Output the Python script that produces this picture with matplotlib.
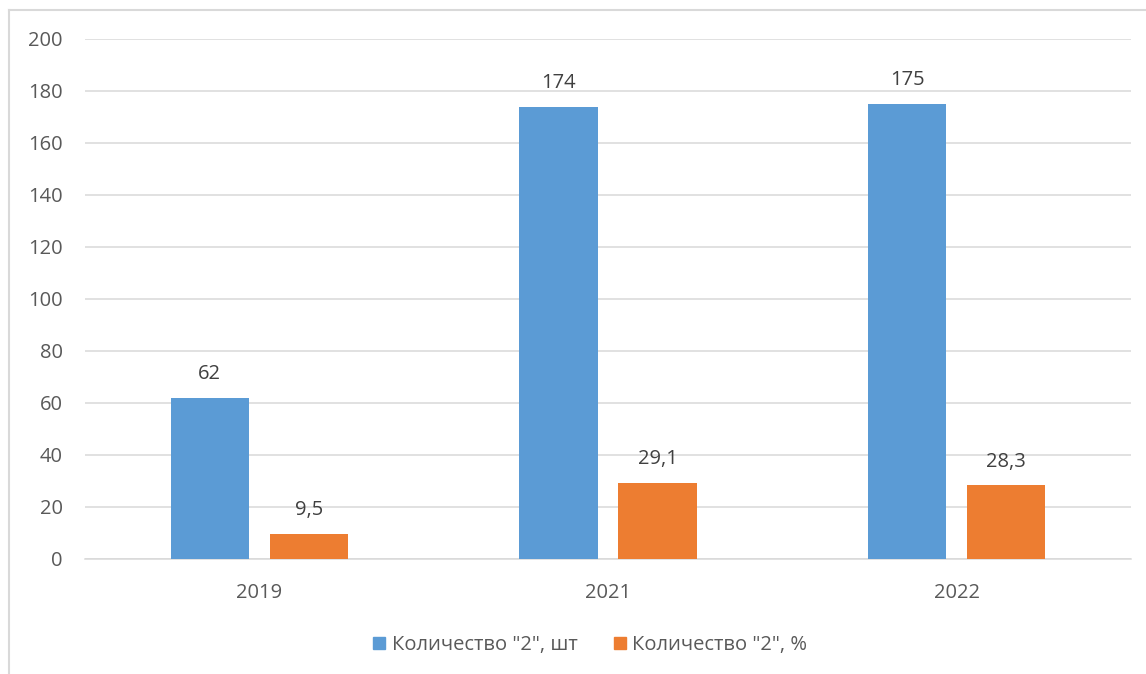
import matplotlib
matplotlib.use("Agg")
import matplotlib.pyplot as plt
import numpy as np
from matplotlib.lines import Line2D

categories = ["2019", "2021", "2022"]
series_names = ['Количество "2", шт', 'Количество "2", %']
values_count = [62, 174, 175]
values_pct = [9.5, 29.1, 28.3]
labels_count = ["62", "174", "175"]
labels_pct = ["9,5", "29,1", "28,3"]
yticks = [0, 20, 40, 60, 80, 100, 120, 140, 160, 180, 200]

plt.rcParams['font.family'] = ['Open Sans', 'DejaVu Sans']
txt = "#595959"
grid = "#d9d9d9"
blue = "#5B9BD5"
orange = "#ED7D31"
fs = 14.5

fig = plt.figure(figsize=(11.46, 6.74), dpi=100)
ax = fig.add_axes([85/1146, 1-559/674, (1131-85)/1146, (559-39)/674])

x = np.arange(len(categories))
w = 0.224
off = 0.142
b1 = ax.bar(x - off, values_count, w, color=blue, zorder=3)
b2 = ax.bar(x + off, values_pct, w, color=orange, zorder=3)

for bars, labs in ((b1, labels_count), (b2, labels_pct)):
    for r, l in zip(bars, labs):
        ax.annotate(l, (r.get_x() + r.get_width()/2, r.get_height()),
                    xytext=(0, 10), textcoords="offset points",
                    ha="center", va="bottom", fontsize=fs, color="#404040")

ax.set_xlim(-0.5, 2.5)
ax.set_ylim(0, 200)
ax.set_yticks(yticks)
ax.set_yticklabels([str(v) for v in yticks])
ax.set_xticks(x)
ax.set_xticklabels(categories)
ax.tick_params(axis="both", length=0, labelsize=fs, colors=txt)
ax.tick_params(axis="y", pad=16)
ax.tick_params(axis="x", pad=17)
ax.grid(axis="y", color=grid, linewidth=1.1, zorder=0)
for s in ["top", "right", "left"]:
    ax.spines[s].set_visible(False)
ax.spines["bottom"].set_color(grid)
ax.spines["bottom"].set_linewidth(1.1)

handles = [plt.Rectangle((0, 0), 1, 1, color=blue), plt.Rectangle((0, 0), 1, 1, color=orange)]
fig.legend(handles, series_names, loc="center", bbox_to_anchor=(590/1146, 1-645/674),
           ncol=2, frameon=False, fontsize=fs, labelcolor=txt,
           handlelength=0.6, handleheight=0.6, handletextpad=0.3, columnspacing=1.8)

# outer chart border (left and top)
fig.add_artist(Line2D([9/1146, 9/1146], [0, 1-10/674], color=grid, linewidth=1.5, transform=fig.transFigure))
fig.add_artist(Line2D([9/1146, 1], [1-10/674, 1-10/674], color=grid, linewidth=1.5, transform=fig.transFigure))

fig.savefig("out.png", dpi=100)
